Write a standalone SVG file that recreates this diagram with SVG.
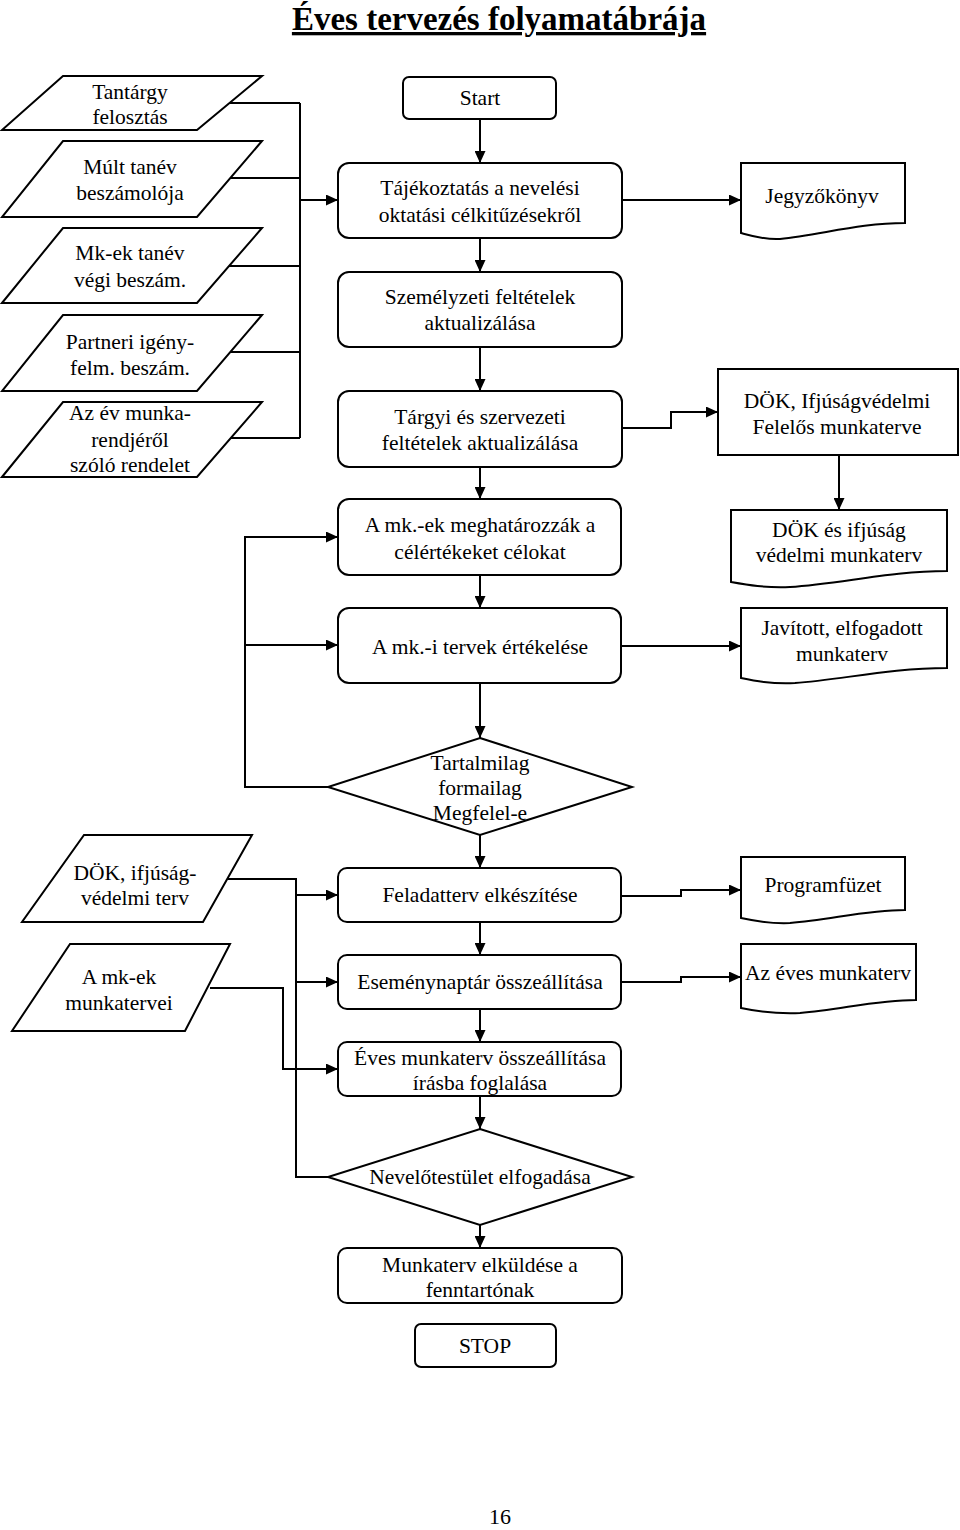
<svg xmlns="http://www.w3.org/2000/svg" width="960" height="1530" viewBox="0 0 960 1530">
<style>
text{font-family:"Liberation Serif","Times New Roman",serif;font-size:21.5px;fill:#000;text-anchor:middle}
.sh{fill:#fff;stroke:#000;stroke-width:2}
.c{fill:none;stroke:#000;stroke-width:2}
.title{font-size:33px;font-weight:bold;text-decoration:underline}
.pg{font-size:22px}
</style>
<defs>
<marker id="arr" markerWidth="12" markerHeight="11" refX="12" refY="5.5" orient="auto" markerUnits="userSpaceOnUse"><path d="M0,0 L12,5.5 L0,11 z" fill="#000"/></marker>
</defs>
<rect width="960" height="1530" fill="#fff"/>
<text class="title" x="499" y="30">Éves tervezés folyamatábrája</text>

<g id="connectors">
<path class="c" d="M228,103 H300 M228,178 H300 M228,266 H300 M228,352 H300 M228,438 H300 M300,103 V438"/>
<path class="c" d="M300,200 H338" marker-end="url(#arr)"/>
<path class="c" d="M480,119 V163" marker-end="url(#arr)"/>
<path class="c" d="M480,238 V272" marker-end="url(#arr)"/>
<path class="c" d="M480,347 V391" marker-end="url(#arr)"/>
<path class="c" d="M480,467 V499" marker-end="url(#arr)"/>
<path class="c" d="M480,575 V608" marker-end="url(#arr)"/>
<path class="c" d="M480,683 V738" marker-end="url(#arr)"/>
<path class="c" d="M480,835 V868" marker-end="url(#arr)"/>
<path class="c" d="M480,922 V955" marker-end="url(#arr)"/>
<path class="c" d="M480,1009 V1042" marker-end="url(#arr)"/>
<path class="c" d="M480,1096 V1129" marker-end="url(#arr)"/>
<path class="c" d="M480,1225 V1248" marker-end="url(#arr)"/>
<path class="c" d="M622,200 H741" marker-end="url(#arr)"/>
<path class="c" d="M622,428 H671 V412 H718" marker-end="url(#arr)"/>
<path class="c" d="M839,455 V510" marker-end="url(#arr)"/>
<path class="c" d="M622,646 H741" marker-end="url(#arr)"/>
<path class="c" d="M328,787 H245 V537 H338" marker-end="url(#arr)"/>
<path class="c" d="M245,645 H338" marker-end="url(#arr)"/>
<path class="c" d="M622,896 H681 V890 H741" marker-end="url(#arr)"/>
<path class="c" d="M622,982 H681 V977 H741" marker-end="url(#arr)"/>
<path class="c" d="M228,879 H296 V1177 H328"/>
<path class="c" d="M296,895 H338" marker-end="url(#arr)"/>
<path class="c" d="M296,982 H338" marker-end="url(#arr)"/>
<path class="c" d="M210,988 H283 V1069 H338" marker-end="url(#arr)"/>
</g>

<g id="in1"><polygon class="sh" points="63,76 262,76 197,130 2,130"/><text x="130" y="99">Tantárgy</text><text x="130" y="124">felosztás</text></g>
<g id="in2"><polygon class="sh" points="63,141 262,141 197,217 2,217"/><text x="130" y="174">Múlt tanév</text><text x="130" y="200">beszámolója</text></g>
<g id="in3"><polygon class="sh" points="63,228 262,228 197,303 2,303"/><text x="130" y="260">Mk-ek tanév</text><text x="130" y="287">végi beszám.</text></g>
<g id="in4"><polygon class="sh" points="63,315 262,315 197,391 2,391"/><text x="130" y="349">Partneri igény-</text><text x="130" y="375">felm. beszám.</text></g>
<g id="in5"><polygon class="sh" points="63,402 262,402 197,477 2,477"/><text x="130" y="420">Az év munka-</text><text x="130" y="447">rendjéről</text><text x="130" y="472">szóló rendelet</text></g>

<g id="start"><rect class="sh" x="403" y="77" width="153" height="42" rx="6"/><text x="480" y="105">Start</text></g>
<g id="tajekoztatas"><rect class="sh" x="338" y="163" width="284" height="75" rx="11"/><text x="480" y="195">Tájékoztatás a nevelési</text><text x="480" y="222">oktatási célkitűzésekről</text></g>
<g id="szemelyzeti"><rect class="sh" x="338" y="272" width="284" height="75" rx="11"/><text x="480" y="304">Személyzeti feltételek</text><text x="480" y="330">aktualizálása</text></g>
<g id="targyi"><rect class="sh" x="338" y="391" width="284" height="76" rx="11"/><text x="480" y="424">Tárgyi és szervezeti</text><text x="480" y="450">feltételek aktualizálása</text></g>
<g id="mkek"><rect class="sh" x="338" y="499" width="283" height="76" rx="11"/><text x="480" y="532">A mk.-ek meghatározzák a</text><text x="480" y="559">célértékeket célokat</text></g>
<g id="mki"><rect class="sh" x="338" y="608" width="283" height="75" rx="11"/><text x="480" y="654">A mk.-i tervek értékelése</text></g>
<g id="dontes1"><polygon class="sh" points="480,738 632,787 480,835 328,787"/><text x="480" y="770">Tartalmilag</text><text x="480" y="795">formailag</text><text x="480" y="820">Megfelel-e</text></g>
<g id="feladatterv"><rect class="sh" x="338" y="868" width="283" height="54" rx="9"/><text x="480" y="902">Feladatterv elkészítése</text></g>
<g id="esemeny"><rect class="sh" x="338" y="955" width="283" height="54" rx="9"/><text x="480" y="989">Eseménynaptár összeállítása</text></g>
<g id="eves"><rect class="sh" x="338" y="1042" width="283" height="54" rx="9"/><text x="480" y="1065">Éves munkaterv összeállítása</text><text x="480" y="1090">írásba foglalása</text></g>
<g id="dontes2"><polygon class="sh" points="480,1129 632,1177 480,1225 328,1177"/><text x="480" y="1184">Nevelőtestület elfogadása</text></g>
<g id="elkuldes"><rect class="sh" x="338" y="1248" width="284" height="55" rx="9"/><text x="480" y="1272">Munkaterv elküldése a</text><text x="480" y="1297">fenntartónak</text></g>
<g id="stop"><rect class="sh" x="415" y="1324" width="141" height="43" rx="6"/><text x="485" y="1353">STOP</text></g>

<g id="jegyzokonyv"><path class="sh" d="M741,163 H905 V223 C860,223 820,235 780,239 C765,240 752,236 741,233 Z"/><text x="822" y="203">Jegyzőkönyv</text></g>
<g id="dok1"><rect class="sh" x="718" y="369" width="240" height="86"/><text x="837" y="408">DÖK, Ifjúságvédelmi</text><text x="837" y="434">Felelős munkaterve</text></g>
<g id="dok2"><path class="sh" d="M731,510 H947 V571 C890,571 840,584 790,587 C765,588 748,585 731,582 Z"/><text x="839" y="537">DÖK és ifjúság</text><text x="839" y="562">védelmi munkaterv</text></g>
<g id="javitott"><path class="sh" d="M741,608 H947 V668 C890,668 840,680 795,683 C770,684 755,681 741,678 Z"/><text x="842" y="635">Javított, elfogadott</text><text x="842" y="661">munkaterv</text></g>
<g id="programfuzet"><path class="sh" d="M741,857 H905 V910 C865,910 830,920 790,923 C770,924 755,921 741,918 Z"/><text x="823" y="892">Programfüzet</text></g>
<g id="azeves"><path class="sh" d="M741,944 H916 V1000 C875,1000 840,1010 800,1013 C775,1014 755,1011 741,1008 Z"/><text x="828" y="980">Az éves munkaterv</text></g>

<g id="in6"><polygon class="sh" points="84,835 252,835 203,922 22,922"/><text x="135" y="880">DÖK, ifjúság-</text><text x="135" y="905">védelmi terv</text></g>
<g id="in7"><polygon class="sh" points="70,944 230,944 185,1031 12,1031"/><text x="119" y="984">A mk-ek</text><text x="119" y="1010">munkatervei</text></g>

<text class="pg" x="500" y="1524">16</text>
</svg>
